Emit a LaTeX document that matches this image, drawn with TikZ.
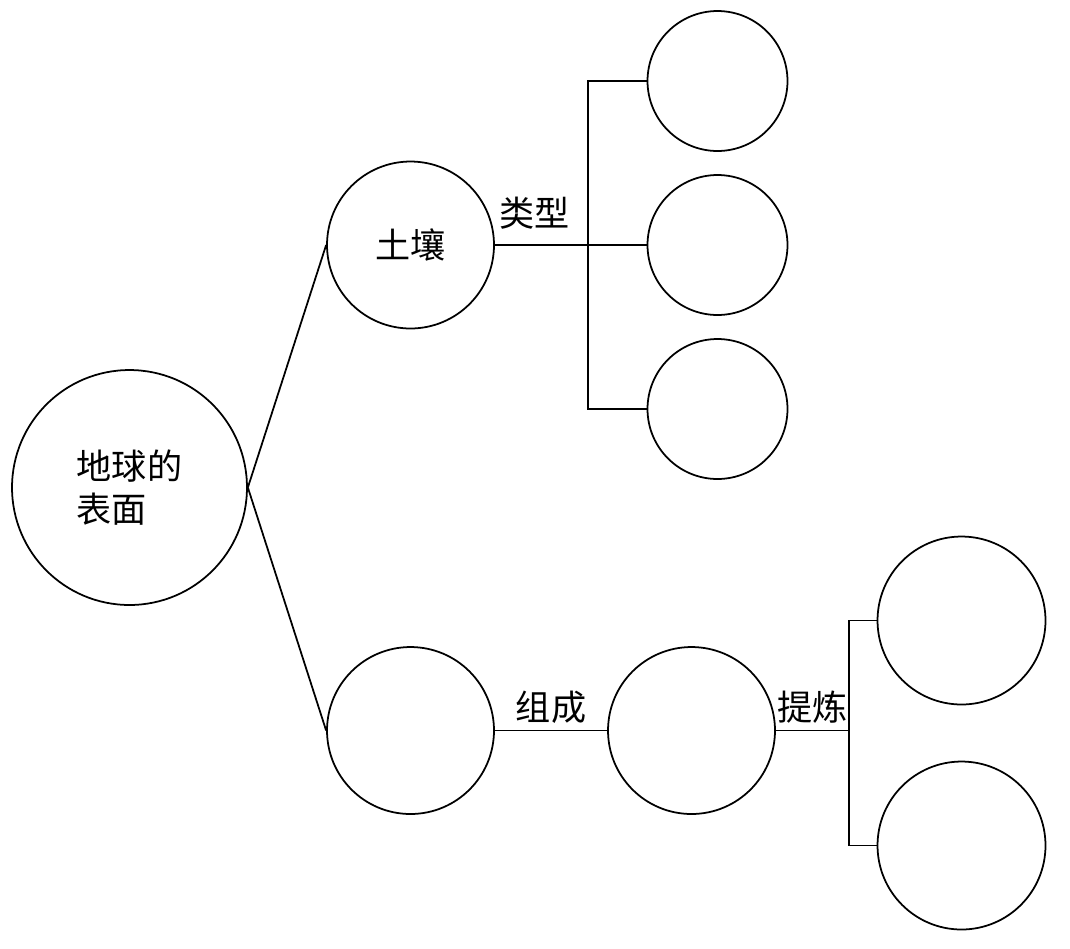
\documentclass[tikz,border=0pt]{standalone}
\usepackage{fontspec}
\usepackage{tikz}
\newfontfamily\cjk{Noto Sans CJK SC}

\begin{document}
\begin{tikzpicture}[x=0.02cm,y=-0.02cm,every node/.style={font=\cjk\fontsize{20}{24}\selectfont},bubble/.style={draw,circle,line width=1pt,inner sep=0pt},link/.style={line width=1pt}]
  \useasboundingbox (0,0) rectangle (1070,948);

  % Root
  \node[bubble,minimum size=4.7cm,align=left] (earth) at (129.5,487.5) {地球的\\表面};

  % Upper branch
  \node[bubble,minimum size=3.34cm] (soil) at (410.5,245) {土壤};
  \node[bubble,minimum size=2.8cm] (s1) at (717.5,81) {};
  \node[bubble,minimum size=2.8cm] (s2) at (717.5,245) {};
  \node[bubble,minimum size=2.8cm] (s3) at (717.5,409) {};
  \coordinate (j1) at (588,245);
  \draw[link] (earth.east) -- (soil.west);
  \draw[link] (soil.east) -- node[midway,above=5pt,xshift=-4pt] (kind) {类型} (j1) -- (s2.west);
  \draw[link] (s1.west) -| (j1) |- (s3.west);

  % Lower branch
  \node[bubble,minimum size=3.34cm] (part) at (410.5,730.5) {};
  \node[bubble,minimum size=3.34cm] (mid) at (691.5,730.5) {};
  \node[bubble,minimum size=3.36cm] (r1) at (961.5,620.5) {};
  \node[bubble,minimum size=3.36cm] (r2) at (961.5,845.5) {};
  \coordinate (j2) at (849,730.5);
  \draw[link] (earth.east) -- (part.west);
  \draw[link] (part.east) -- node[midway,above] (made) {组成} (mid.west);
  \draw[link] (mid.east) -- node[midway,above] (refine) {提炼} (j2);
  \draw[link] (r1.west) -| (j2) |- (r2.west);
\end{tikzpicture}
\end{document}
